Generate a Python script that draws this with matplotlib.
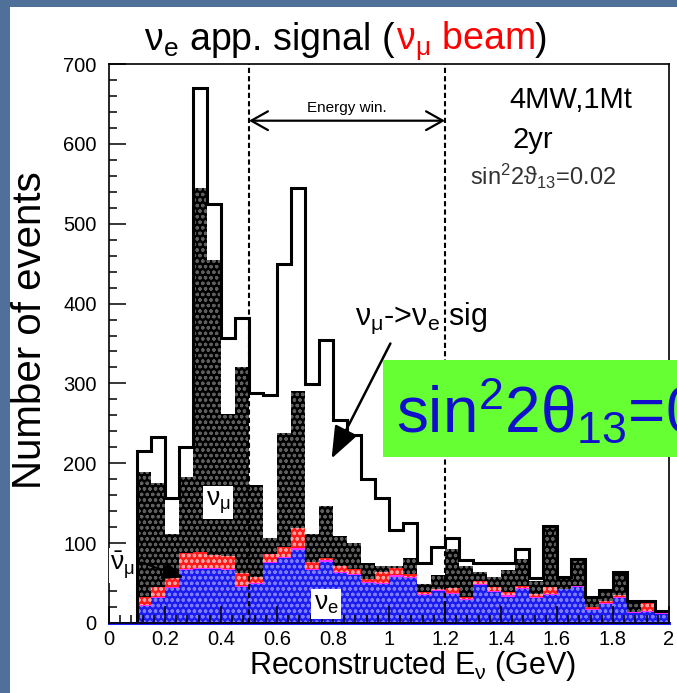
import matplotlib
matplotlib.use("Agg")
import matplotlib.pyplot as plt
import numpy as np
from matplotlib.patches import Rectangle
from matplotlib.ticker import MultipleLocator

# reconstructed neutrino energy binning (GeV), 50 MeV bins from 0.1 to 2.0
e_lo = 0.10
e_hi = 2.00
n_bins = 38

# events per bin, 4MW / 1Mt / 2yr, sin^2(2theta13) = 0.02
nue_beam = [21, 31, 44, 66, 67, 67, 66, 45, 49, 75, 81, 92, 66, 77, 62, 60, 50, 49, 58,
            56, 35, 40, 36, 29, 47, 39, 33, 42, 31, 35, 42, 45, 16, 24, 31, 12, 14, 11]
numubar_bg = [11, 14, 18, 22, 22, 18, 18, 18, 9, 12, 14, 27, 11, 4, 10, 7, 5, 15, 11,
              5, 4, 3, 8, 4, 5, 6, 6, 4, 5, 10, 1, 1, 4, 3, 4, 2, 11, 1]
numu_bg = [157, 130, 49, 95, 456, 369, 178, 257, 115, 19, 143, 171, 35, 65, 37, 33, 20, 7, 2,
           20, 10, 17, 49, 39, 12, 13, 27, 34, 17, 75, 14, 33, 12, 13, 28, 12, 1, 1]
nue_signal = [27, 58, 45, 37, 125, 71, 95, 62, 115, 179, 211, 255, 187, 209, 145, 135, 105, 85, 46,
              44, 26, 35, 14, 7, 11, 17, 9, 13, 3, 2, 1, 1, 1, 1, 1, 1, 1, 2]

window_lo = 0.5
window_hi = 1.2

plt.rcParams["font.family"] = ["Liberation Sans", "DejaVu Sans"]
plt.rcParams["mathtext.fontset"] = "dejavusans"
plt.rcParams["mathtext.default"] = "regular"
plt.rcParams["hatch.linewidth"] = 0.9

edges = np.linspace(e_lo, e_hi, n_bins + 1)
lvl0 = np.zeros(n_bins)
lvl1 = lvl0 + np.array(nue_beam)
lvl2 = lvl1 + np.array(numubar_bg)
lvl3 = lvl2 + np.array(numu_bg)
lvl4 = lvl3 + np.array(nue_signal)

fig = plt.figure(figsize=(6.77, 6.93), dpi=100, facecolor="#4e7099")
fig.patches.append(Rectangle((10 / 677, 0), 1, 1 - 7 / 693, transform=fig.transFigure,
                             facecolor="white", edgecolor="none", zorder=-10))

ax = fig.add_axes([109 / 677, 1 - 623 / 693, 560 / 677, 559 / 693])
ax.set_xlim(0, 2)
ax.set_ylim(0, 700)

# stacked components
ax.stairs(lvl1, edges, baseline=lvl0, fill=True, facecolor="#1c1cf0", edgecolor="#7c7cff",
          hatch="ooo", linewidth=0, zorder=2)
ax.stairs(lvl1 + 1.5, edges, baseline=lvl1, fill=True, facecolor="#ff2cff", linewidth=0, zorder=2)
ax.stairs(lvl2, edges, baseline=lvl1 + 1.5, fill=True, facecolor="#ff1a1a", edgecolor="#ffa0a0",
          hatch="ooo", linewidth=0, zorder=2)
ax.stairs(lvl3, edges, baseline=lvl2, fill=True, facecolor="black", edgecolor="#5e5e5e",
          hatch="ooo", linewidth=0, zorder=2)
ax.stairs(lvl4, edges, baseline=0, fill=False, edgecolor="black", linewidth=2.2, zorder=3)
ax.plot([0, 2], [0, 0], color="#2020ff", linewidth=2.2, zorder=4, clip_on=False)

# energy window
for xv in (window_lo, window_hi):
    ax.plot([xv, xv], [0, 700], color="black", linestyle=(0, (2.5, 1.5)), linewidth=1.5, zorder=4)
ax.annotate("", xy=(window_lo, 629), xytext=(window_hi, 629),
            arrowprops=dict(arrowstyle="<->,head_length=0.8,head_width=0.45", mutation_scale=15,
                            linewidth=1.6, color="black", shrinkA=0, shrinkB=0))
ax.text((window_lo + window_hi) / 2, 640, "Energy win.", ha="center", va="baseline", fontsize=11)

ax.text(1.43, 645, "4MW,1Mt", fontsize=21, va="baseline")
ax.text(1.44, 595, "2yr", fontsize=21, va="baseline")
ax.text(1.29, 549, r"sin$^{2}$2$\vartheta_{13}$=0.02", fontsize=17, va="baseline",
        color="#333333")

ax.text(0.88, 373, r"$\nu_{\mu}$->$\nu_{e}$ sig", fontsize=22, va="baseline")
ax.annotate("", xy=(0.795, 206), xytext=(1.005, 350),
            arrowprops=dict(arrowstyle="-|>,head_length=0.9,head_width=0.35", mutation_scale=22,
                            linewidth=1.8, color="black", shrinkA=0, shrinkB=0), zorder=5)

ax.text(0.39, 151, r"$\nu_{\mu}$", fontsize=19, ha="center", va="center", zorder=6,
        bbox=dict(facecolor="white", edgecolor="none", pad=2))
ax.text(0.775, 24, r"$\nu_{e}$", fontsize=19, ha="center", va="center", zorder=6,
        bbox=dict(facecolor="white", edgecolor="none", pad=2))
ax.text(0.005, 72, r"$\bar{\nu}_{\mu}$", fontsize=19, ha="left", va="center", zorder=6,
        bbox=dict(facecolor="white", edgecolor="none", pad=1))
ax.annotate("", xy=(0.265, 57), xytext=(0.115, 76),
            arrowprops=dict(arrowstyle="-|>,head_length=0.9,head_width=0.4", mutation_scale=14,
                            linewidth=1.4, color="black", shrinkA=0, shrinkB=0), zorder=6)

# axes styling
ax.xaxis.set_major_locator(MultipleLocator(0.2))
ax.xaxis.set_minor_locator(MultipleLocator(0.04))
ax.yaxis.set_major_locator(MultipleLocator(100))
ax.yaxis.set_minor_locator(MultipleLocator(20))
ax.set_xticks(np.arange(0, 2.01, 0.2))
ax.set_xticklabels(["0", "0.2", "0.4", "0.6", "0.8", "1", "1.2", "1.4", "1.6", "1.8", "2"])
ax.tick_params(which="both", direction="in", top=False, right=False, labelsize=14.5, width=1.1)
ax.tick_params(which="major", length=12)
ax.tick_params(which="minor", length=6)
ax.tick_params(axis="y", pad=9)
ax.tick_params(axis="x", pad=5)
for sp in ax.spines.values():
    sp.set_linewidth(1.2)
    sp.set_zorder(5)
ax.set_axisbelow(False)

fig.text(0.044, 0.524, "Number of events", rotation=90, ha="center", va="center", fontsize=29)
fig.text(0.609, 0.039, r"Reconstructed E$_{\nu}$ (GeV)", ha="center", va="center", fontsize=22)

# title with the beam part in red
renderer = fig.canvas.get_renderer()
pieces = [(r"$\nu_{e}$ app. signal (", "black"), (r"$\nu_{\mu}$ beam", "red"), (")", "black")]
texts = []
for s, c in pieces:
    texts.append(fig.text(0, 0.928, s, color=c, fontsize=27, va="baseline"))
widths = [t.get_window_extent(renderer).width / fig.bbox.width for t in texts]
x0 = 0.511 - sum(widths) / 2
for t, w in zip(texts, widths):
    t.set_x(x0)
    x0 += w

# highlighted mixing angle box
fig.patches.append(Rectangle((383 / 677, 1 - 457 / 693), 1, 97 / 693, transform=fig.transFigure,
                             facecolor="#66ff33", edgecolor="none", zorder=10))
fig.text(0.585, 0.375, r"sin$^{2}$2$\theta_{13}$=0.02", fontsize=46, color="#1010cc",
         va="baseline", zorder=11)

fig.savefig("out.png", dpi=100, facecolor=fig.get_facecolor())
